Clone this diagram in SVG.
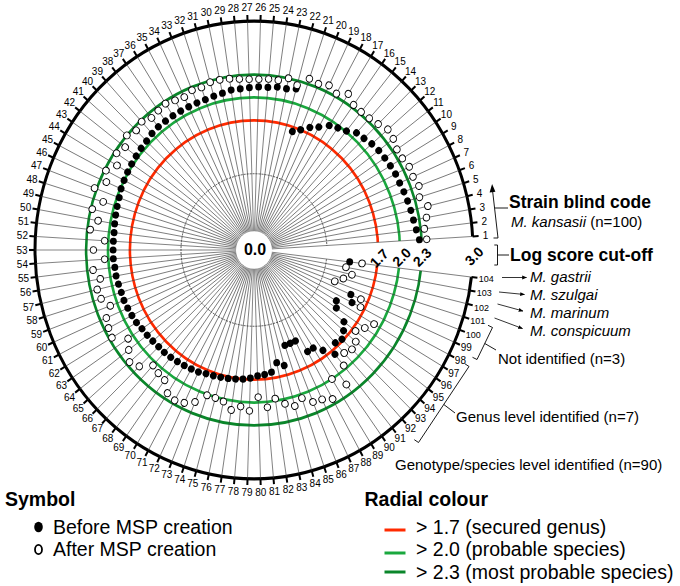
<svg xmlns="http://www.w3.org/2000/svg" xmlns:xlink="http://www.w3.org/1999/xlink" width="680" height="586" viewBox="0 0 680 586">
<style>
text{font-family:"Liberation Sans",Arial,sans-serif;fill:#000}
.sp{stroke:#3a3a3a;stroke-width:0.6}
.tk{stroke:#000;stroke-width:2}
.lb{font-size:10px;text-anchor:middle;dominant-baseline:central}
.s9{font-size:9px}
.ring{fill:none;stroke-width:2.6}
.red{stroke:#ff2a00}
.g1{stroke:#1aa83e}
.g2{stroke:#0a862a}
.f circle{fill:#000}
.o circle{fill:#fff;stroke:#000;stroke-width:0.0125}
.gl{font-size:14px;font-weight:bold;text-anchor:middle;dominant-baseline:central}
.an{font-size:15px}
.it{font-style:italic}
.hd{font-size:17.5px;font-weight:bold}
.lg{font-size:19.5px}
.lgh{font-size:19.5px;font-weight:bold}
.ln{stroke:#000;stroke-width:0.9;fill:none}
.arr{stroke:#000;stroke-width:0.8;fill:none;marker-end:url(#ah)}
</style>
<defs>
<g id="s"><line class="sp" x1="0" y1="0" x2="219" y2="0"/><line class="tk" x1="219" y1="0" x2="225" y2="0"/></g>
<marker id="ah" viewBox="0 0 10 10" refX="9" refY="5" markerWidth="6" markerHeight="6" orient="auto"><path d="M0,1L10,5L0,9z" fill="#000"/></marker>
</defs>

<g id="radial-frame" transform="translate(254,250) scale(1,1.045)">
<circle r="73" fill="none" stroke="#111" stroke-width="0.7" stroke-dasharray="2 1"/>
<circle class="ring red" r="124.1"/>
<circle class="ring g1" r="146"/>
<circle class="ring g2" r="167.9"/>
<circle r="219" fill="none" stroke="#000" stroke-width="3"/>
<path d="M0 0L225.6 -13.39A226 226 0 0 1 224.41 26.73Z" fill="#fff"/>
<g id="spokes">
<use xlink:href="#s" transform="rotate(-3.396)"/><use xlink:href="#s" transform="rotate(-6.792)"/><use xlink:href="#s" transform="rotate(-10.189)"/><use xlink:href="#s" transform="rotate(-13.585)"/><use xlink:href="#s" transform="rotate(-16.981)"/><use xlink:href="#s" transform="rotate(-20.377)"/><use xlink:href="#s" transform="rotate(-23.774)"/><use xlink:href="#s" transform="rotate(-27.170)"/><use xlink:href="#s" transform="rotate(-30.566)"/><use xlink:href="#s" transform="rotate(-33.962)"/>
<use xlink:href="#s" transform="rotate(-37.358)"/><use xlink:href="#s" transform="rotate(-40.755)"/><use xlink:href="#s" transform="rotate(-44.151)"/><use xlink:href="#s" transform="rotate(-47.547)"/><use xlink:href="#s" transform="rotate(-50.943)"/><use xlink:href="#s" transform="rotate(-54.340)"/><use xlink:href="#s" transform="rotate(-57.736)"/><use xlink:href="#s" transform="rotate(-61.132)"/><use xlink:href="#s" transform="rotate(-64.528)"/><use xlink:href="#s" transform="rotate(-67.925)"/>
<use xlink:href="#s" transform="rotate(-71.321)"/><use xlink:href="#s" transform="rotate(-74.717)"/><use xlink:href="#s" transform="rotate(-78.113)"/><use xlink:href="#s" transform="rotate(-81.509)"/><use xlink:href="#s" transform="rotate(-84.906)"/><use xlink:href="#s" transform="rotate(-88.302)"/><use xlink:href="#s" transform="rotate(-91.698)"/><use xlink:href="#s" transform="rotate(-95.094)"/><use xlink:href="#s" transform="rotate(-98.491)"/><use xlink:href="#s" transform="rotate(-101.887)"/>
<use xlink:href="#s" transform="rotate(-105.283)"/><use xlink:href="#s" transform="rotate(-108.679)"/><use xlink:href="#s" transform="rotate(-112.075)"/><use xlink:href="#s" transform="rotate(-115.472)"/><use xlink:href="#s" transform="rotate(-118.868)"/><use xlink:href="#s" transform="rotate(-122.264)"/><use xlink:href="#s" transform="rotate(-125.660)"/><use xlink:href="#s" transform="rotate(-129.057)"/><use xlink:href="#s" transform="rotate(-132.453)"/><use xlink:href="#s" transform="rotate(-135.849)"/>
<use xlink:href="#s" transform="rotate(-139.245)"/><use xlink:href="#s" transform="rotate(-142.642)"/><use xlink:href="#s" transform="rotate(-146.038)"/><use xlink:href="#s" transform="rotate(-149.434)"/><use xlink:href="#s" transform="rotate(-152.830)"/><use xlink:href="#s" transform="rotate(-156.226)"/><use xlink:href="#s" transform="rotate(-159.623)"/><use xlink:href="#s" transform="rotate(-163.019)"/><use xlink:href="#s" transform="rotate(-166.415)"/><use xlink:href="#s" transform="rotate(-169.811)"/>
<use xlink:href="#s" transform="rotate(-173.208)"/><use xlink:href="#s" transform="rotate(-176.604)"/><use xlink:href="#s" transform="rotate(-180)"/><use xlink:href="#s" transform="rotate(-183.396)"/><use xlink:href="#s" transform="rotate(-186.792)"/><use xlink:href="#s" transform="rotate(-190.189)"/><use xlink:href="#s" transform="rotate(-193.585)"/><use xlink:href="#s" transform="rotate(-196.981)"/><use xlink:href="#s" transform="rotate(-200.377)"/><use xlink:href="#s" transform="rotate(-203.774)"/>
<use xlink:href="#s" transform="rotate(-207.170)"/><use xlink:href="#s" transform="rotate(-210.566)"/><use xlink:href="#s" transform="rotate(-213.962)"/><use xlink:href="#s" transform="rotate(-217.358)"/><use xlink:href="#s" transform="rotate(-220.755)"/><use xlink:href="#s" transform="rotate(-224.151)"/><use xlink:href="#s" transform="rotate(-227.547)"/><use xlink:href="#s" transform="rotate(-230.943)"/><use xlink:href="#s" transform="rotate(-234.340)"/><use xlink:href="#s" transform="rotate(-237.736)"/>
<use xlink:href="#s" transform="rotate(-241.132)"/><use xlink:href="#s" transform="rotate(-244.528)"/><use xlink:href="#s" transform="rotate(-247.925)"/><use xlink:href="#s" transform="rotate(-251.321)"/><use xlink:href="#s" transform="rotate(-254.717)"/><use xlink:href="#s" transform="rotate(-258.113)"/><use xlink:href="#s" transform="rotate(-261.509)"/><use xlink:href="#s" transform="rotate(-264.906)"/><use xlink:href="#s" transform="rotate(-268.302)"/><use xlink:href="#s" transform="rotate(-271.698)"/>
<use xlink:href="#s" transform="rotate(-275.094)"/><use xlink:href="#s" transform="rotate(-278.491)"/><use xlink:href="#s" transform="rotate(-281.887)"/><use xlink:href="#s" transform="rotate(-285.283)"/><use xlink:href="#s" transform="rotate(-288.679)"/><use xlink:href="#s" transform="rotate(-292.075)"/><use xlink:href="#s" transform="rotate(-295.472)"/><use xlink:href="#s" transform="rotate(-298.868)"/><use xlink:href="#s" transform="rotate(-302.264)"/><use xlink:href="#s" transform="rotate(-305.660)"/>
<use xlink:href="#s" transform="rotate(-309.057)"/><use xlink:href="#s" transform="rotate(-312.453)"/><use xlink:href="#s" transform="rotate(-315.849)"/><use xlink:href="#s" transform="rotate(-319.245)"/><use xlink:href="#s" transform="rotate(-322.642)"/><use xlink:href="#s" transform="rotate(-326.038)"/><use xlink:href="#s" transform="rotate(-329.434)"/><use xlink:href="#s" transform="rotate(-332.830)"/><use xlink:href="#s" transform="rotate(-336.226)"/><use xlink:href="#s" transform="rotate(-339.623)"/>
<use xlink:href="#s" transform="rotate(-343.019)"/><use xlink:href="#s" transform="rotate(-346.415)"/><use xlink:href="#s" transform="rotate(-349.811)"/><use xlink:href="#s" transform="rotate(-353.208)"/>
</g>
<circle r="18" fill="#fff"/>
<g id="tick-labels" class="lb">
<text transform="rotate(-3.396) translate(232) rotate(3.396)">1</text><text transform="rotate(-6.792) translate(232) rotate(6.792)">2</text><text transform="rotate(-10.189) translate(232) rotate(10.189)">3</text><text transform="rotate(-13.585) translate(232) rotate(13.585)">4</text><text transform="rotate(-16.981) translate(232) rotate(16.981)">5</text><text transform="rotate(-20.377) translate(232) rotate(20.377)">6</text><text transform="rotate(-23.774) translate(232) rotate(23.774)">7</text><text transform="rotate(-27.170) translate(232) rotate(27.170)">8</text><text transform="rotate(-30.566) translate(232) rotate(30.566)">9</text><text transform="rotate(-33.962) translate(232) rotate(33.962)">10</text>
<text transform="rotate(-37.358) translate(232) rotate(37.358)">11</text><text transform="rotate(-40.755) translate(232) rotate(40.755)">12</text><text transform="rotate(-44.151) translate(232) rotate(44.151)">13</text><text transform="rotate(-47.547) translate(232) rotate(47.547)">14</text><text transform="rotate(-50.943) translate(232) rotate(50.943)">15</text><text transform="rotate(-54.340) translate(232) rotate(54.340)">16</text><text transform="rotate(-57.736) translate(232) rotate(57.736)">17</text><text transform="rotate(-61.132) translate(232) rotate(61.132)">18</text><text transform="rotate(-64.528) translate(232) rotate(64.528)">19</text><text transform="rotate(-67.925) translate(232) rotate(67.925)">20</text>
<text transform="rotate(-71.321) translate(232) rotate(71.321)">21</text><text transform="rotate(-74.717) translate(232) rotate(74.717)">22</text><text transform="rotate(-78.113) translate(232) rotate(78.113)">23</text><text transform="rotate(-81.509) translate(232) rotate(81.509)">24</text><text transform="rotate(-84.906) translate(232) rotate(84.906)">25</text><text transform="rotate(-88.302) translate(232) rotate(88.302)">26</text><text transform="rotate(-91.698) translate(232) rotate(91.698)">27</text><text transform="rotate(-95.094) translate(232) rotate(95.094)">28</text><text transform="rotate(-98.491) translate(232) rotate(98.491)">29</text><text transform="rotate(-101.887) translate(232) rotate(101.887)">30</text>
<text transform="rotate(-105.283) translate(232) rotate(105.283)">31</text><text transform="rotate(-108.679) translate(232) rotate(108.679)">32</text><text transform="rotate(-112.075) translate(232) rotate(112.075)">33</text><text transform="rotate(-115.472) translate(232) rotate(115.472)">34</text><text transform="rotate(-118.868) translate(232) rotate(118.868)">35</text><text transform="rotate(-122.264) translate(232) rotate(122.264)">36</text><text transform="rotate(-125.660) translate(232) rotate(125.660)">37</text><text transform="rotate(-129.057) translate(232) rotate(129.057)">38</text><text transform="rotate(-132.453) translate(232) rotate(132.453)">39</text><text transform="rotate(-135.849) translate(232) rotate(135.849)">40</text>
<text transform="rotate(-139.245) translate(232) rotate(139.245)">41</text><text transform="rotate(-142.642) translate(232) rotate(142.642)">42</text><text transform="rotate(-146.038) translate(232) rotate(146.038)">43</text><text transform="rotate(-149.434) translate(232) rotate(149.434)">44</text><text transform="rotate(-152.830) translate(232) rotate(152.830)">45</text><text transform="rotate(-156.226) translate(232) rotate(156.226)">46</text><text transform="rotate(-159.623) translate(232) rotate(159.623)">47</text><text transform="rotate(-163.019) translate(232) rotate(163.019)">48</text><text transform="rotate(-166.415) translate(232) rotate(166.415)">49</text><text transform="rotate(-169.811) translate(232) rotate(169.811)">50</text>
<text transform="rotate(-173.208) translate(232) rotate(173.208)">51</text><text transform="rotate(-176.604) translate(232) rotate(176.604)">52</text><text transform="rotate(-180) translate(232) rotate(180)">53</text><text transform="rotate(-183.396) translate(232) rotate(183.396)">54</text><text transform="rotate(-186.792) translate(232) rotate(186.792)">55</text><text transform="rotate(-190.189) translate(232) rotate(190.189)">56</text><text transform="rotate(-193.585) translate(232) rotate(193.585)">57</text><text transform="rotate(-196.981) translate(232) rotate(196.981)">58</text><text transform="rotate(-200.377) translate(232) rotate(200.377)">59</text><text transform="rotate(-203.774) translate(232) rotate(203.774)">60</text>
<text transform="rotate(-207.170) translate(232) rotate(207.170)">61</text><text transform="rotate(-210.566) translate(232) rotate(210.566)">62</text><text transform="rotate(-213.962) translate(232) rotate(213.962)">63</text><text transform="rotate(-217.358) translate(232) rotate(217.358)">64</text><text transform="rotate(-220.755) translate(232) rotate(220.755)">65</text><text transform="rotate(-224.151) translate(232) rotate(224.151)">66</text><text transform="rotate(-227.547) translate(232) rotate(227.547)">67</text><text transform="rotate(-230.943) translate(232) rotate(230.943)">68</text><text transform="rotate(-234.340) translate(232) rotate(234.340)">69</text><text transform="rotate(-237.736) translate(232) rotate(237.736)">70</text>
<text transform="rotate(-241.132) translate(232) rotate(241.132)">71</text><text transform="rotate(-244.528) translate(232) rotate(244.528)">72</text><text transform="rotate(-247.925) translate(232) rotate(247.925)">73</text><text transform="rotate(-251.321) translate(232) rotate(251.321)">74</text><text transform="rotate(-254.717) translate(232) rotate(254.717)">75</text><text transform="rotate(-258.113) translate(232) rotate(258.113)">76</text><text transform="rotate(-261.509) translate(232) rotate(261.509)">77</text><text transform="rotate(-264.906) translate(232) rotate(264.906)">78</text><text transform="rotate(-268.302) translate(232) rotate(268.302)">79</text><text transform="rotate(-271.698) translate(232) rotate(271.698)">80</text>
<text transform="rotate(-275.094) translate(232) rotate(275.094)">81</text><text transform="rotate(-278.491) translate(232) rotate(278.491)">82</text><text transform="rotate(-281.887) translate(232) rotate(281.887)">83</text><text transform="rotate(-285.283) translate(232) rotate(285.283)">84</text><text transform="rotate(-288.679) translate(232) rotate(288.679)">85</text><text transform="rotate(-292.075) translate(232) rotate(292.075)">86</text><text transform="rotate(-295.472) translate(232) rotate(295.472)">87</text><text transform="rotate(-298.868) translate(232) rotate(298.868)">88</text><text transform="rotate(-302.264) translate(232) rotate(302.264)">89</text><text transform="rotate(-305.660) translate(232) rotate(305.660)">90</text>
<text transform="rotate(-309.057) translate(232) rotate(309.057)">91</text><text transform="rotate(-312.453) translate(232) rotate(312.453)">92</text><text transform="rotate(-315.849) translate(232) rotate(315.849)">93</text><text transform="rotate(-319.245) translate(232) rotate(319.245)">94</text><text transform="rotate(-322.642) translate(232) rotate(322.642)">95</text><text transform="rotate(-326.038) translate(232) rotate(326.038)">96</text><text transform="rotate(-329.434) translate(232) rotate(329.434)">97</text><text transform="rotate(-332.830) translate(232) rotate(332.830)">98</text><text transform="rotate(-336.226) translate(232) rotate(336.226)">99</text>
<text class="s9" transform="rotate(-339.623) translate(234) rotate(339.623)">100</text><text class="s9" transform="rotate(-343.019) translate(234) rotate(343.019)">101</text><text class="s9" transform="rotate(-346.415) translate(234) rotate(346.415)">102</text><text class="s9" transform="rotate(-349.811) translate(234) rotate(349.811)">103</text><text class="s9" transform="rotate(-353.208) translate(234) rotate(353.208)">104</text>
</g>
</g>

<g id="points" transform="translate(254,250) scale(73,76.285)">
<g id="before" class="f">
<circle r="0.047" cx="2.27" transform="rotate(-3.396)"/><circle r="0.047" cx="2.24" transform="rotate(-6.792)"/><circle r="0.047" cx="2.22" transform="rotate(-10.189)"/><circle r="0.047" cx="2.21" transform="rotate(-13.585)"/><circle r="0.047" cx="2.20" transform="rotate(-16.981)"/><circle r="0.047" cx="2.19" transform="rotate(-20.377)"/><circle r="0.047" cx="2.18" transform="rotate(-23.774)"/><circle r="0.047" cx="2.18" transform="rotate(-27.170)"/><circle r="0.047" cx="2.17" transform="rotate(-30.566)"/><circle r="0.047" cx="2.16" transform="rotate(-33.962)"/>
<circle r="0.047" cx="2.15" transform="rotate(-37.358)"/><circle r="0.047" cx="2.13" transform="rotate(-40.755)"/><circle r="0.047" cx="2.10" transform="rotate(-44.151)"/><circle r="0.047" cx="2.08" transform="rotate(-47.547)"/><circle r="0.047" cx="2.01" transform="rotate(-50.943)"/><circle r="0.047" cx="1.97" transform="rotate(-54.340)"/><circle r="0.047" cx="1.93" transform="rotate(-57.736)"/><circle r="0.047" cx="1.84" transform="rotate(-61.132)"/><circle r="0.047" cx="1.78" transform="rotate(-64.528)"/><circle r="0.047" cx="1.70" transform="rotate(-67.925)"/>
<circle r="0.047" cx="1.64" transform="rotate(-71.321)"/><circle r="0.047" cx="2.19" transform="rotate(-74.717)"/><circle r="0.047" cx="2.16" transform="rotate(-78.113)"/><circle r="0.047" cx="2.16" transform="rotate(-81.509)"/><circle r="0.047" cx="2.14" transform="rotate(-84.906)"/><circle r="0.047" cx="2.14" transform="rotate(-88.302)"/><circle r="0.047" cx="2.13" transform="rotate(-91.698)"/><circle r="0.047" cx="2.12" transform="rotate(-95.094)"/><circle r="0.047" cx="2.12" transform="rotate(-98.491)"/><circle r="0.047" cx="2.10" transform="rotate(-101.887)"/>
<circle r="0.047" cx="2.09" transform="rotate(-105.283)"/><circle r="0.047" cx="2.08" transform="rotate(-108.679)"/><circle r="0.047" cx="2.08" transform="rotate(-112.075)"/><circle r="0.047" cx="2.08" transform="rotate(-115.472)"/><circle r="0.047" cx="2.08" transform="rotate(-118.868)"/><circle r="0.047" cx="2.08" transform="rotate(-122.264)"/><circle r="0.047" cx="2.08" transform="rotate(-125.660)"/><circle r="0.047" cx="2.08" transform="rotate(-129.057)"/><circle r="0.047" cx="2.07" transform="rotate(-132.453)"/><circle r="0.047" cx="2.05" transform="rotate(-135.849)"/>
<circle r="0.047" cx="2.04" transform="rotate(-139.245)"/><circle r="0.047" cx="2.03" transform="rotate(-142.642)"/><circle r="0.047" cx="2.02" transform="rotate(-146.038)"/><circle r="0.047" cx="2.01" transform="rotate(-149.434)"/><circle r="0.047" cx="2.00" transform="rotate(-152.830)"/><circle r="0.047" cx="1.99" transform="rotate(-156.226)"/><circle r="0.047" cx="1.97" transform="rotate(-159.623)"/><circle r="0.047" cx="1.96" transform="rotate(-163.019)"/><circle r="0.047" cx="1.95" transform="rotate(-166.415)"/><circle r="0.047" cx="1.94" transform="rotate(-169.811)"/>
<circle r="0.047" cx="1.93" transform="rotate(-173.208)"/><circle r="0.047" cx="1.93" transform="rotate(-176.604)"/><circle r="0.047" cx="1.93" transform="rotate(-180)"/><circle r="0.047" cx="1.93" transform="rotate(-183.396)"/><circle r="0.047" cx="1.92" transform="rotate(-186.792)"/><circle r="0.047" cx="1.92" transform="rotate(-190.189)"/><circle r="0.047" cx="1.91" transform="rotate(-193.585)"/><circle r="0.047" cx="1.90" transform="rotate(-196.981)"/><circle r="0.047" cx="1.90" transform="rotate(-200.377)"/><circle r="0.047" cx="1.89" transform="rotate(-203.774)"/>
<circle r="0.047" cx="1.88" transform="rotate(-207.170)"/><circle r="0.047" cx="1.87" transform="rotate(-210.566)"/><circle r="0.047" cx="1.85" transform="rotate(-213.962)"/><circle r="0.047" cx="1.84" transform="rotate(-217.358)"/><circle r="0.047" cx="1.83" transform="rotate(-220.755)"/><circle r="0.047" cx="1.82" transform="rotate(-224.151)"/><circle r="0.047" cx="1.82" transform="rotate(-227.547)"/><circle r="0.047" cx="1.81" transform="rotate(-230.943)"/><circle r="0.047" cx="1.80" transform="rotate(-234.340)"/><circle r="0.047" cx="1.79" transform="rotate(-237.736)"/>
<circle r="0.047" cx="1.78" transform="rotate(-241.132)"/><circle r="0.047" cx="1.77" transform="rotate(-244.528)"/><circle r="0.047" cx="1.75" transform="rotate(-247.925)"/><circle r="0.047" cx="1.74" transform="rotate(-251.321)"/><circle r="0.047" cx="1.73" transform="rotate(-254.717)"/><circle r="0.047" cx="1.72" transform="rotate(-258.113)"/><circle r="0.047" cx="1.71" transform="rotate(-261.509)"/><circle r="0.047" cx="1.70" transform="rotate(-264.906)"/><circle r="0.047" cx="1.68" transform="rotate(-268.302)"/><circle r="0.047" cx="1.65" transform="rotate(-271.698)"/>
<circle r="0.047" cx="1.64" transform="rotate(-275.094)"/><circle r="0.047" cx="1.62" transform="rotate(-278.491)"/><circle r="0.047" cx="1.51" transform="rotate(-281.887)"/><circle r="0.047" cx="1.57" transform="rotate(-285.283)"/><circle r="0.047" cx="1.32" transform="rotate(-288.679)"/><circle r="0.047" cx="1.32" transform="rotate(-292.075)"/><circle r="0.047" cx="1.32" transform="rotate(-295.472)"/><circle r="0.047" cx="1.52" transform="rotate(-298.868)"/><circle r="0.047" cx="1.52" transform="rotate(-302.264)"/><circle r="0.047" cx="1.62" transform="rotate(-305.660)"/>
<circle r="0.047" cx="1.76" transform="rotate(-309.057)"/><circle r="0.047" cx="1.65" transform="rotate(-312.453)"/><circle r="0.047" cx="1.68" transform="rotate(-315.849)"/><circle r="0.047" cx="1.62" transform="rotate(-319.245)"/><circle r="0.047" cx="1.55" transform="rotate(-322.642)"/><circle r="0.047" cx="1.36" transform="rotate(-326.038)"/><circle r="0.047" cx="1.31" transform="rotate(-329.434)"/><circle r="0.047" cx="1.51" transform="rotate(-332.830)"/><circle r="0.047" cx="1.45" transform="rotate(-336.226)"/>
<circle r="0.047" cx="1.32" transform="rotate(-353.208)"/>
</g>
<g id="after" class="o">
<circle r="0.045" cx="2.37" transform="rotate(-3.396)"/><circle r="0.045" cx="2.35" transform="rotate(-6.792)"/><circle r="0.045" cx="2.40" transform="rotate(-10.189)"/><circle r="0.045" cx="2.45" transform="rotate(-13.585)"/><circle r="0.045" cx="2.37" transform="rotate(-16.981)"/><circle r="0.045" cx="2.41" transform="rotate(-20.377)"/><circle r="0.045" cx="2.38" transform="rotate(-23.774)"/><circle r="0.045" cx="2.39" transform="rotate(-27.170)"/><circle r="0.045" cx="2.36" transform="rotate(-30.566)"/><circle r="0.045" cx="2.36" transform="rotate(-33.962)"/>
<circle r="0.045" cx="2.40" transform="rotate(-37.358)"/><circle r="0.045" cx="2.42" transform="rotate(-40.755)"/><circle r="0.045" cx="2.37" transform="rotate(-44.151)"/><circle r="0.045" cx="2.34" transform="rotate(-47.547)"/><circle r="0.045" cx="2.33" transform="rotate(-50.943)"/><circle r="0.045" cx="2.34" transform="rotate(-54.340)"/><circle r="0.045" cx="2.42" transform="rotate(-57.736)"/><circle r="0.045" cx="2.34" transform="rotate(-61.132)"/><circle r="0.045" cx="2.39" transform="rotate(-64.528)"/><circle r="0.045" cx="2.35" transform="rotate(-67.925)"/>
<circle r="0.045" cx="2.37" transform="rotate(-71.321)"/><circle r="0.045" cx="2.24" transform="rotate(-74.717)"/><circle r="0.045" cx="2.30" transform="rotate(-78.113)"/><circle r="0.045" cx="2.25" transform="rotate(-81.509)"/><circle r="0.045" cx="2.25" transform="rotate(-84.906)"/><circle r="0.045" cx="2.24" transform="rotate(-88.302)"/><circle r="0.045" cx="2.24" transform="rotate(-91.698)"/><circle r="0.045" cx="2.25" transform="rotate(-95.094)"/><circle r="0.045" cx="2.27" transform="rotate(-98.491)"/><circle r="0.045" cx="2.28" transform="rotate(-101.887)"/>
<circle r="0.045" cx="2.28" transform="rotate(-105.283)"/><circle r="0.045" cx="2.25" transform="rotate(-108.679)"/><circle r="0.045" cx="2.26" transform="rotate(-112.075)"/><circle r="0.045" cx="2.22" transform="rotate(-115.472)"/><circle r="0.045" cx="2.24" transform="rotate(-118.868)"/><circle r="0.045" cx="2.27" transform="rotate(-122.264)"/><circle r="0.045" cx="2.25" transform="rotate(-125.660)"/><circle r="0.045" cx="2.23" transform="rotate(-129.057)"/><circle r="0.045" cx="2.28" transform="rotate(-132.453)"/><circle r="0.045" cx="2.25" transform="rotate(-135.849)"/>
<circle r="0.045" cx="2.30" transform="rotate(-139.245)"/><circle r="0.045" cx="2.22" transform="rotate(-142.642)"/><circle r="0.045" cx="2.27" transform="rotate(-146.038)"/><circle r="0.045" cx="2.18" transform="rotate(-149.434)"/><circle r="0.045" cx="2.28" transform="rotate(-152.830)"/><circle r="0.045" cx="2.21" transform="rotate(-156.226)"/><circle r="0.045" cx="2.33" transform="rotate(-159.623)"/><circle r="0.045" cx="2.16" transform="rotate(-163.019)"/><circle r="0.045" cx="2.28" transform="rotate(-166.415)"/><circle r="0.045" cx="2.17" transform="rotate(-169.811)"/>
<circle r="0.045" cx="2.26" transform="rotate(-173.208)"/><circle r="0.045" cx="2.05" transform="rotate(-176.604)"/><circle r="0.045" cx="2.20" transform="rotate(-180)"/><circle r="0.045" cx="2.05" transform="rotate(-183.396)"/><circle r="0.045" cx="2.22" transform="rotate(-186.792)"/><circle r="0.045" cx="2.14" transform="rotate(-190.189)"/><circle r="0.045" cx="2.21" transform="rotate(-193.585)"/><circle r="0.045" cx="2.19" transform="rotate(-196.981)"/><circle r="0.045" cx="2.10" transform="rotate(-200.377)"/><circle r="0.045" cx="2.21" transform="rotate(-203.774)"/>
<circle r="0.045" cx="2.24" transform="rotate(-207.170)"/><circle r="0.045" cx="2.26" transform="rotate(-210.566)"/><circle r="0.045" cx="2.08" transform="rotate(-213.962)"/><circle r="0.045" cx="2.16" transform="rotate(-217.358)"/><circle r="0.045" cx="2.25" transform="rotate(-220.755)"/><circle r="0.045" cx="2.19" transform="rotate(-224.151)"/><circle r="0.045" cx="2.05" transform="rotate(-227.547)"/><circle r="0.045" cx="2.08" transform="rotate(-230.943)"/><circle r="0.045" cx="2.10" transform="rotate(-234.340)"/><circle r="0.045" cx="2.22" transform="rotate(-237.736)"/>
<circle r="0.045" cx="2.25" transform="rotate(-241.132)"/><circle r="0.045" cx="2.22" transform="rotate(-244.528)"/><circle r="0.045" cx="2.15" transform="rotate(-247.925)"/><circle r="0.045" cx="2.01" transform="rotate(-251.321)"/><circle r="0.045" cx="2.01" transform="rotate(-254.717)"/><circle r="0.045" cx="2.03" transform="rotate(-258.113)"/><circle r="0.045" cx="2.12" transform="rotate(-261.509)"/><circle r="0.045" cx="2.06" transform="rotate(-264.906)"/><circle r="0.045" cx="2.11" transform="rotate(-268.302)"/><circle r="0.045" cx="1.93" transform="rotate(-271.698)"/>
<circle r="0.045" cx="2.07" transform="rotate(-275.094)"/><circle r="0.045" cx="1.97" transform="rotate(-278.491)"/><circle r="0.045" cx="2.06" transform="rotate(-281.887)"/><circle r="0.045" cx="2.12" transform="rotate(-285.283)"/><circle r="0.045" cx="2.05" transform="rotate(-288.679)"/><circle r="0.045" cx="2.15" transform="rotate(-292.075)"/><circle r="0.045" cx="2.17" transform="rotate(-295.472)"/><circle r="0.045" cx="2.23" transform="rotate(-298.868)"/><circle r="0.045" cx="2.00" transform="rotate(-302.264)"/><circle r="0.045" cx="2.17" transform="rotate(-305.660)"/>
<circle r="0.045" cx="1.95" transform="rotate(-309.057)"/><circle r="0.045" cx="1.83" transform="rotate(-312.453)"/><circle r="0.045" cx="1.87" transform="rotate(-315.849)"/><circle r="0.045" cx="1.84" transform="rotate(-319.245)"/><circle r="0.045" cx="1.75" transform="rotate(-322.642)"/><circle r="0.045" cx="1.83" transform="rotate(-326.038)"/><circle r="0.045" cx="1.91" transform="rotate(-329.434)"/><circle r="0.045" cx="1.64" transform="rotate(-332.830)"/><circle r="0.045" cx="1.60" transform="rotate(-336.226)"/><circle r="0.045" cx="1.18" transform="rotate(-339.623)"/>
<circle r="0.045" cx="1.28" transform="rotate(-343.019)"/><circle r="0.045" cx="1.38" transform="rotate(-346.415)"/><circle r="0.045" cx="1.28" transform="rotate(-349.811)"/><circle r="0.045" cx="1.49" transform="rotate(-353.208)"/>
</g>
</g>

<g id="scale-labels">
<text x="255" y="249" font-size="16" font-weight="bold" text-anchor="middle" dominant-baseline="central">0.0</text>
<text class="gl" transform="translate(379,258) rotate(-45)">1.7</text>
<text class="gl" transform="translate(401.5,257) rotate(-45)">2.0</text>
<text class="gl" transform="translate(422,257) rotate(-45)">2.3</text>
<text class="gl" transform="translate(474,256) rotate(-45)">3.0</text>
</g>

<g id="annotations">
<g id="connectors">
<line class="ln" x1="498" y1="238" x2="492.6" y2="191" stroke-width="1.2"/>
<path d="M489.6,192.5L492.1,184L495.4,191.8Z" fill="#000"/>
<line class="ln" x1="493.5" y1="238" x2="498" y2="238"/>
<line class="ln" x1="495" y1="208" x2="508" y2="208"/>
<path class="ln" d="M494.3,245H497.5V265H494.3M497.5,255H509"/>
<line class="arr" x1="502" y1="277.5" x2="526.5" y2="277.5"/>
<line class="arr" x1="499" y1="292" x2="524.5" y2="294.5"/>
<line class="arr" x1="497.5" y1="304" x2="523" y2="311"/>
<line class="arr" x1="494.5" y1="318" x2="522.5" y2="328.5"/>
<path class="ln" d="M488,325.3L492.5,327.5L477,359.5L472.5,357.3M484.8,343.5L496,350"/>
<path class="ln" d="M464.8,363.7L469,366.5L418.5,442.5L414.3,439.7M443.8,404.5L455,413"/>
</g>
<text class="hd" x="509" y="208">Strain blind code</text>
<text class="an" x="511" y="227"><tspan class="it">M. kansasii</tspan> (n=100)</text>
<text class="hd" x="510" y="261">Log score cut-off</text>
<text class="an it" x="530" y="281.5">M. gastrii</text>
<text class="an it" x="530" y="299.5">M. szulgai</text>
<text class="an it" x="530" y="317.5">M. marinum</text>
<text class="an it" x="530" y="335.5">M. conspicuum</text>
<text class="an" x="498" y="364">Not identified (n=3)</text>
<text class="an" x="456" y="422">Genus level identified (n=7)</text>
<text class="an" x="395" y="470">Genotype/species level identified (n=90)</text>
</g>

<g id="legend-symbol">
<text class="lgh" x="5" y="505.5">Symbol</text>
<ellipse cx="38.5" cy="527" rx="4.3" ry="5.3" fill="#000"/>
<text class="lg" x="53" y="533.5">Before MSP creation</text>
<ellipse cx="38.5" cy="549.5" rx="3.5" ry="4.7" fill="#fff" stroke="#000" stroke-width="1.8"/>
<text class="lg" x="53" y="556">After MSP creation</text>
</g>
<g id="legend-radial">
<text class="lgh" x="364.5" y="505.5">Radial colour</text>
<line x1="384.5" y1="530" x2="405.5" y2="530" stroke="#ff2a00" stroke-width="3"/>
<text class="lg" x="416" y="533.5">&gt; 1.7 (secured genus)</text>
<line x1="384.5" y1="553" x2="405.5" y2="553" stroke="#1aa83e" stroke-width="3"/>
<text class="lg" x="416" y="556">&gt; 2.0 (probable species)</text>
<line x1="384.5" y1="572" x2="405.5" y2="572" stroke="#0a862a" stroke-width="3"/>
<text class="lg" x="416" y="579">&gt; 2.3 (most probable species)</text>
</g>
</svg>
